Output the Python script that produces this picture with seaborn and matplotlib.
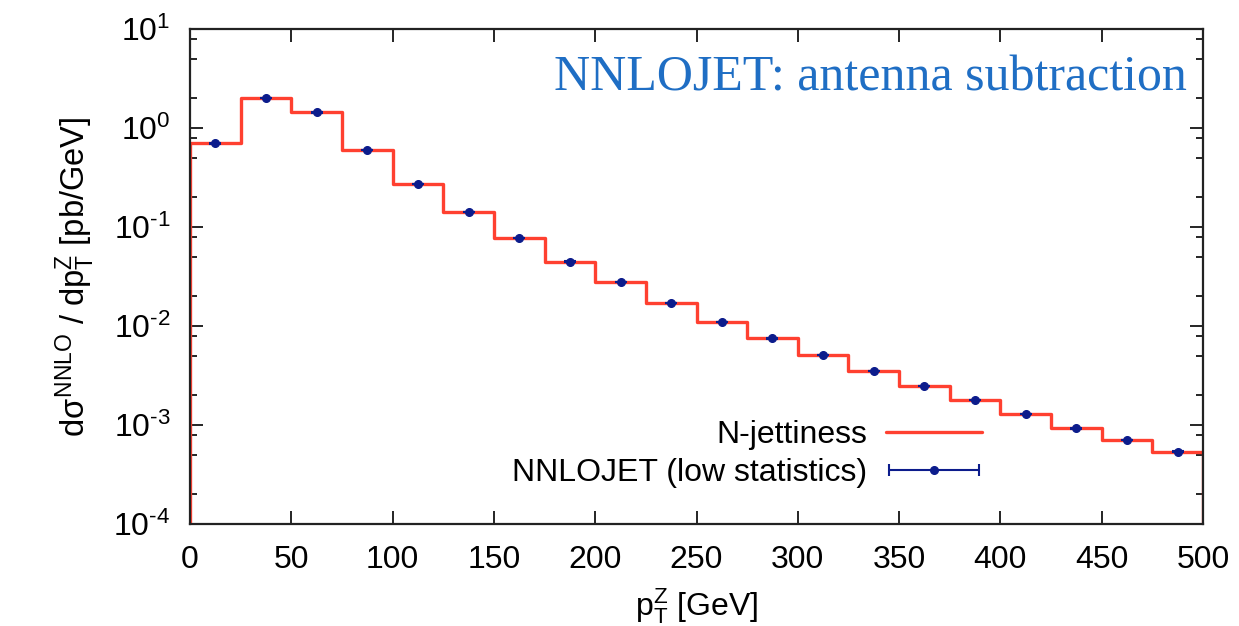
import numpy as np
import matplotlib
matplotlib.use("Agg")
import matplotlib.pyplot as plt
import seaborn as sns
from matplotlib.ticker import LogLocator, NullFormatter, FuncFormatter, MultipleLocator
from matplotlib.legend_handler import HandlerErrorbar

# ---- data ----
bin_edges = [0, 25, 50, 75, 100, 125, 150, 175, 200, 225, 250, 275, 300,
             325, 350, 375, 400, 425, 450, 475, 500]
njettiness = [0.70, 2.02, 1.44, 0.60, 0.272, 0.142, 0.0775, 0.0447, 0.0278,
              0.0171, 0.0110, 0.0075, 0.0051, 0.00351, 0.00248, 0.00179,
              0.00129, 0.000925, 0.000705, 0.000537]
nnlojet = [0.70, 2.02, 1.44, 0.60, 0.272, 0.142, 0.0775, 0.0447, 0.0278,
           0.0171, 0.0110, 0.0075, 0.0051, 0.00351, 0.00248, 0.00179,
           0.00129, 0.000925, 0.000705, 0.000537]
nnlojet_err = [0.005, 0.01, 0.008, 0.004, 0.002, 0.001, 0.0005, 0.0003, 0.0002,
               0.0001, 0.00008, 0.00005, 0.00004, 0.00003, 0.00002, 0.000015,
               0.00001, 0.000008, 0.000006, 0.000005]
labels = ["N-jettiness", "NNLOJET (low statistics)"]
title = "NNLOJET: antenna subtraction"

RED = "#ff4030"
NAVY = "#0c1c8c"

sns.set_theme(style="ticks")
plt.rcParams["font.family"] = ["Liberation Sans", "DejaVu Sans"]
plt.rcParams["mathtext.fontset"] = "custom"
plt.rcParams["mathtext.rm"] = "Liberation Sans"
plt.rcParams["mathtext.it"] = "Liberation Sans"
plt.rcParams["mathtext.sf"] = "Liberation Sans"
plt.rcParams["text.color"] = "black"
plt.rcParams["axes.labelcolor"] = "black"

fig = plt.figure(figsize=(12.39, 6.26), dpi=100)
ax = fig.add_axes([190 / 1239, 1 - 524 / 626, (1203 - 190) / 1239, (524 - 29) / 626])

edges = np.asarray(bin_edges, dtype=float)
vals = np.asarray(njettiness, dtype=float)
centers = 0.5 * (edges[:-1] + edges[1:])
ymin, ymax = 1e-4, 10

# red step histogram
sns.lineplot(x=edges, y=np.append(vals, vals[-1]), drawstyle="steps-post",
             color=RED, lw=2.4, ax=ax, label=labels[0], zorder=2)
ax.vlines([edges[0], edges[-1]], ymin, [vals[0], vals[-1]], color=RED, lw=2.4, zorder=2)

# NNLOJET points
cont = ax.errorbar(centers, nnlojet, yerr=nnlojet_err, fmt="o", color=NAVY,
                   ms=5.5, capsize=4.5, elinewidth=1.5, capthick=1.5,
                   label=labels[1], zorder=3)
cont.has_xerr = True
cont.has_yerr = False

ax.set_yscale("log")
ax.set_xlim(0, 500)
ax.set_ylim(ymin, ymax)
ax.xaxis.set_major_locator(MultipleLocator(50))
ax.yaxis.set_major_locator(LogLocator(base=10, numticks=10))


def log_fmt(v, pos):
    e = int(round(np.log10(v)))
    return r"10$^{\mathrm{\text{%s}}}$" % (str(e))


ax.yaxis.set_major_formatter(FuncFormatter(log_fmt))
ax.yaxis.set_minor_locator(LogLocator(base=10, subs=(2, 5, 8), numticks=10))
ax.yaxis.set_minor_formatter(NullFormatter())

ax.tick_params(which="both", direction="in", top=True, right=True,
               colors="black", labelsize=23, width=1.2)
ax.tick_params(which="major", length=9.5)
ax.tick_params(axis="x", which="major", pad=15)
ax.tick_params(axis="y", which="major", pad=14)
ax.tick_params(which="minor", length=5)
for s in ax.spines.values():
    s.set_color("#222222")
    s.set_linewidth(1.6)

ax.set_xlabel(r"p$_{\rm T}^{\rm Z}$ [GeV]", fontsize=23, labelpad=8)
ax.set_ylabel(r"d$\sigma^{\rm NNLO}$ / dp$_{\rm T}^{\rm Z}$ [pb/GeV]", fontsize=23.5, labelpad=12)

ax.text(0.984, 0.90, title, transform=ax.transAxes, ha="right", va="center",
        fontsize=36, color="#1f6ec4", family=["Liberation Serif", "DejaVu Serif"])

leg = ax.legend(loc="lower right", bbox_to_anchor=(0.81, 0.015), frameon=False,
                markerfirst=False, fontsize=23, handlelength=3.0, numpoints=1,
                labelspacing=0.25, handletextpad=0.6,
                handler_map={type(cont): HandlerErrorbar(xerr_size=1.4)})

fig.savefig("out.png", dpi=100)
